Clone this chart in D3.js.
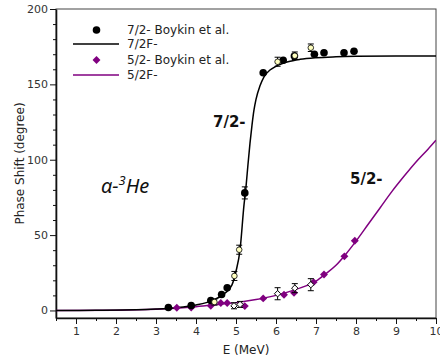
<!DOCTYPE html>
<html>
<head>
<meta charset="utf-8">
<script src="https://cdn.jsdelivr.net/npm/d3@7"></script>
<style>
  body { margin: 0; background: #fff; }
  text { font-family: "DejaVu Sans", sans-serif; }
</style>
</head>
<body>
<div id="svg-chart"></div>
<script>

// Boykin et al. 7/2- phase shifts (MeV, degree)
var boykin72E = [3.31, 3.88, 4.37, 4.64, 4.78, 5.22, 5.68, 6.18, 6.46, 6.96, 7.2, 7.7, 7.95];
var boykin72V = [2.0, 3.3, 6.6, 10.6, 15.1, 78, 157.7, 166, 168.8, 170, 171, 171, 172];
var boykin72Err = [0, 0, 0, 0, 0, 4, 0, 0, 0, 0, 0, 0, 0];

// other 7/2- data with error bars
var other72E = [4.46, 4.96, 5.08, 6.04, 6.47, 6.87];
var other72V = [5.6, 22.9, 40.3, 165, 169, 174.3];
var other72Err = [2, 3, 3, 3, 2.5, 2.5];

// Boykin et al. 5/2- phase shifts
var boykin52E = [3.52, 3.88, 4.37, 4.62, 4.78, 5.22, 5.68, 6.2, 6.45, 6.94, 7.2, 7.71, 7.97];
var boykin52V = [1.8, 2.0, 3.1, 5.0, 4.9, 2.9, 8.0, 10.4, 11.8, 18.8, 23.9, 35.9, 46.2];

// other 5/2- data with error bars
var other52E = [4.95, 5.1, 6.04, 6.47, 6.87];
var other52V = [3.1, 4.0, 11.1, 14.8, 17.1];
var other52Err = [2, 2, 4, 3, 4];

// fitted curves
var fit72E = [0.5, 1.5, 2.5, 3.0, 3.5, 4.0, 4.4, 4.7, 4.9, 5.0, 5.1, 5.2, 5.25, 5.3, 5.35, 5.4, 5.45, 5.5, 5.6, 5.7, 5.85, 6.0, 6.3, 6.6, 7.0, 7.5, 8.0, 9.0, 10.0];
var fit72V = [0, 0.1, 0.4, 0.9, 1.8, 3.6, 6.5, 11, 17, 26, 40, 70, 82, 97, 111, 123, 133, 140, 149, 155, 159.5, 162, 165, 166.6, 167.7, 168.3, 168.6, 168.8, 168.9];

var fit52E = [0.5, 2.0, 3.0, 3.5, 4.0, 4.5, 5.0, 5.5, 6.0, 6.5, 7.0, 7.25, 7.5, 7.75, 8.0, 8.3, 8.6, 8.9, 9.2, 9.5, 9.8, 10.0];
var fit52V = [0, 0.2, 0.8, 1.5, 2.5, 3.8, 5.2, 7.2, 10, 14, 19.5, 24.5, 30, 37.5, 46, 57, 68, 79, 89, 98.5, 107, 113];

var xTicks = [1, 2, 3, 4, 5, 6, 7, 8, 9, 10];
var yTicks = [0, 50, 100, 150, 200];

var svgWidth = 440;
var svgHeight = 363;

var chartMargin = { top: 9, right: 4, bottom: 45, left: 56 };
var chartWidth = svgWidth - chartMargin.left - chartMargin.right;
var chartHeight = svgHeight - chartMargin.top - chartMargin.bottom;

var svg = d3.select("#svg-chart")
    .append("svg")
    .attr("width", svgWidth)
    .attr("height", svgHeight);

var chartGroup = svg.append("g")
    .attr("transform", `translate(${chartMargin.left}, ${chartMargin.top})`);

var xScale = d3.scaleLinear().domain([0.5, 10]).range([0, chartWidth]);
var yScale = d3.scaleLinear().domain([-5, 200]).range([chartHeight, 0]);

// frame (top + right)
chartGroup.append("rect")
    .attr("width", chartWidth)
    .attr("height", chartHeight)
    .attr("fill", "none")
    .attr("stroke", "#444")
    .attr("stroke-width", 1);

// minor ticks
var xMinor = d3.range(0.5, 10.01, 0.5).filter(d => xTicks.indexOf(d) < 0);
var yMinor = d3.range(-0, 201, 10).filter(d => yTicks.indexOf(d) < 0);

chartGroup.append("g")
    .attr("transform", `translate(0, ${chartHeight})`)
    .call(d3.axisBottom(xScale).tickValues(xMinor).tickSize(3).tickFormat(""))
    .call(g => g.select(".domain").remove());

chartGroup.append("g")
    .call(d3.axisLeft(yScale).tickValues(yMinor).tickSize(3).tickFormat(""))
    .call(g => g.select(".domain").remove());

// major axes
var xAxis = chartGroup.append("g")
    .attr("transform", `translate(0, ${chartHeight})`)
    .call(d3.axisBottom(xScale).tickValues(xTicks).tickSize(6).tickPadding(3).tickSizeOuter(0));

var yAxis = chartGroup.append("g")
    .call(d3.axisLeft(yScale).tickValues(yTicks).tickSize(6).tickPadding(2).tickSizeOuter(0));

[xAxis, yAxis].forEach(function(ax) {
    ax.select(".domain").attr("stroke", "#111").attr("stroke-width", 1.6);
    ax.selectAll("text").attr("font-size", 11).attr("fill", "#333").style("font-family", "DejaVu Sans");
});
chartGroup.selectAll(".tick line").attr("stroke", "#111");

// axis titles
chartGroup.append("text")
    .attr("x", chartWidth / 2)
    .attr("y", chartHeight + 36)
    .attr("text-anchor", "middle")
    .attr("font-size", 12)
    .attr("fill", "#222")
    .text("E (MeV)");

chartGroup.append("text")
    .attr("transform", "rotate(-90)")
    .attr("x", 0 - (chartHeight / 2))
    .attr("y", 20 - chartMargin.left)
    .attr("dy", "0.35em")
    .attr("text-anchor", "middle")
    .attr("font-size", 12)
    .attr("fill", "#222")
    .text("Phase Shift (degree)");

// clip for curves
svg.append("clipPath").attr("id", "plot-clip")
    .append("rect").attr("width", chartWidth).attr("height", chartHeight);

var lineGen = d3.line()
    .x(d => xScale(d[0]))
    .y(d => yScale(d[1]))
    .curve(d3.curveMonotoneX);

var curves = chartGroup.append("g").attr("clip-path", "url(#plot-clip)");

curves.append("path")
    .datum(d3.zip(fit52E, fit52V))
    .attr("d", lineGen)
    .attr("fill", "none")
    .attr("stroke", "#800080")
    .attr("stroke-width", 1.5);

curves.append("path")
    .datum(d3.zip(fit72E, fit72V))
    .attr("d", lineGen)
    .attr("fill", "none")
    .attr("stroke", "#000")
    .attr("stroke-width", 1.5);

// error bars helper
function errorBars(E, V, Err) {
    var g = chartGroup.append("g").attr("stroke", "#000").attr("stroke-width", 1);
    d3.zip(E, V, Err).filter(d => d[2] > 0).forEach(function(d) {
        var x = xScale(d[0]);
        var y0 = yScale(d[1] - d[2]);
        var y1 = yScale(d[1] + d[2]);
        g.append("line").attr("x1", x).attr("x2", x).attr("y1", y0).attr("y2", y1);
        g.append("line").attr("x1", x - 3).attr("x2", x + 3).attr("y1", y0).attr("y2", y0);
        g.append("line").attr("x1", x - 3).attr("x2", x + 3).attr("y1", y1).attr("y2", y1);
    });
}

var diamond = d3.symbol().type(d3.symbolDiamond2);
var diamondPath = diamond.size(40)();

// 5/2- markers
chartGroup.append("g").selectAll("path")
    .data(d3.zip(boykin52E, boykin52V))
    .enter()
    .append("path")
    .attr("d", diamondPath)
    .attr("transform", d => `translate(${xScale(d[0])}, ${yScale(d[1])})`)
    .attr("fill", "#800080");

errorBars(other52E, other52V, other52Err);
chartGroup.append("g").selectAll("path")
    .data(d3.zip(other52E, other52V))
    .enter()
    .append("path")
    .attr("d", diamond.size(26)())
    .attr("transform", d => `translate(${xScale(d[0])}, ${yScale(d[1])})`)
    .attr("fill", "#fff")
    .attr("stroke", "#000")
    .attr("stroke-width", 1);

// 7/2- markers
errorBars(boykin72E, boykin72V, boykin72Err);
chartGroup.append("g").selectAll("circle")
    .data(d3.zip(boykin72E, boykin72V))
    .enter()
    .append("circle")
    .attr("cx", d => xScale(d[0]))
    .attr("cy", d => yScale(d[1]))
    .attr("r", 3.8)
    .attr("fill", "#000");

errorBars(other72E, other72V, other72Err);
chartGroup.append("g").selectAll("circle")
    .data(d3.zip(other72E, other72V))
    .enter()
    .append("circle")
    .attr("cx", d => xScale(d[0]))
    .attr("cy", d => yScale(d[1]))
    .attr("r", 2.8)
    .attr("fill", "#ffffc0")
    .attr("stroke", "#000")
    .attr("stroke-width", 0.8);

// legend
var legend = svg.append("g");
var legendRows = [
    { label: "7/2- Boykin et al.", kind: "dot", y: 30 },
    { label: "7/2F-", kind: "line", color: "#000", y: 44 },
    { label: "5/2- Boykin et al.", kind: "diamond", y: 60 },
    { label: "5/2F-", kind: "line", color: "#800080", y: 75 }
];
legendRows.forEach(function(r) {
    if (r.kind == "dot") {
        legend.append("circle").attr("cx", 96.5).attr("cy", r.y).attr("r", 3.8).attr("fill", "#000");
    } else if (r.kind == "diamond") {
        legend.append("path").attr("d", diamondPath)
            .attr("transform", `translate(96.5, ${r.y})`).attr("fill", "#800080");
    } else {
        legend.append("line").attr("x1", 73).attr("x2", 119).attr("y1", r.y).attr("y2", r.y)
            .attr("stroke", r.color).attr("stroke-width", 1.5);
    }
    legend.append("text")
        .attr("x", 127)
        .attr("y", r.y)
        .attr("dy", "0.35em")
        .attr("font-size", 12)
        .attr("fill", "#222")
        .text(r.label);
});

// annotations
svg.append("text")
    .attr("x", 213).attr("y", 122).attr("dy", "0.35em")
    .attr("font-size", 15).attr("font-weight", "bold").attr("fill", "#111")
    .text("7/2-");

svg.append("text")
    .attr("x", 350).attr("y", 179).attr("dy", "0.35em")
    .attr("font-size", 15).attr("font-weight", "bold").attr("fill", "#111")
    .text("5/2-");

var title = svg.append("text")
    .attr("x", 101).attr("y", 193)
    .attr("font-size", 20).attr("font-style", "italic").attr("fill", "#111")
    .style("font-family", "'Noto Sans', sans-serif");
title.append("tspan").text("α-");
title.append("tspan").attr("dy", -8).attr("font-size", 13).text("3");
title.append("tspan").attr("dy", 8).text("He");

</script>
</body>
</html>
